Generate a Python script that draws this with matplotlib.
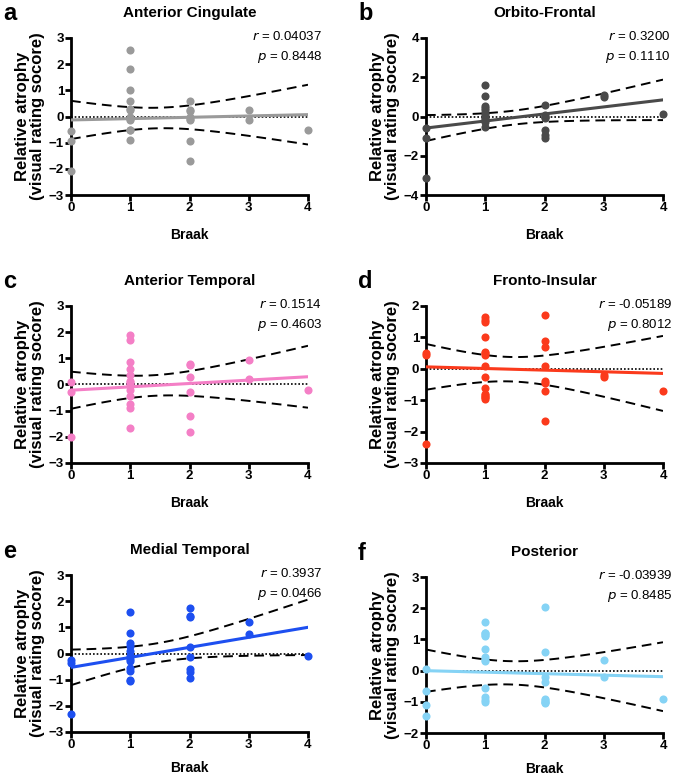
import numpy as np
import matplotlib
matplotlib.use('Agg')
import matplotlib.pyplot as plt

plt.rcParams['font.family'] = ['Liberation Sans', 'DejaVu Sans']

# data: (braak stage, relative atrophy)
cing_x = [0, 0, 0, 1, 1, 1, 1, 1, 1, 1, 1, 1, 1, 1, 1,
          2, 2, 2, 2, 2, 2, 2, 2, 3, 3, 4]
cing_y = [-0.55, -0.95, -2.1, 2.55, 1.8, 1.0, 0.6, 0.25, -0.15, -0.5, -0.9,
          0.0, -0.1, 0.3, -0.5,
          0.6, 0.25, -0.15, -0.95, -1.7, 0.0, -0.1, 0.2, 0.25, -0.15, -0.5]

orb_x = [0, 0, 0, 1, 1, 1, 1, 1, 1, 1, 1, 1, 1, 1, 1,
         2, 2, 2, 2, 2, 2, 2, 2, 3, 3, 4]
orb_y = [-0.6, -1.1, -3.15, 1.6, 1.05, 0.55, 0.35, 0.1, -0.1, -0.3, -0.55,
         0.0, 0.2, -0.2, 0.45,
         0.6, 0.1, -0.1, -0.7, -0.95, -1.1, 0.0, -0.05, 1.1, 1.0, 0.15]

atemp_x = [0, 0, 0, 1, 1, 1, 1, 1, 1, 1, 1, 1, 1, 1, 1, 1, 1,
           2, 2, 2, 2, 2, 2, 3, 3, 4]
atemp_y = [0.1, -0.3, -2.0, 1.9, 1.7, 0.85, 0.6, 0.35, 0.1, -0.05, -0.2, -0.45,
           -0.75, -0.9, -1.65, 0.0, 0.15,
           0.8, 0.75, 0.3, -0.3, -1.2, -1.8, 0.95, 0.2, -0.2]

fins_x = [0, 0, 0, 1, 1, 1, 1, 1, 1, 1, 1, 1, 1, 1, 1, 1, 1, 1,
          2, 2, 2, 2, 2, 2, 2, 2, 3, 3, 4]
fins_y = [0.5, 0.45, -2.4, 1.65, 1.55, 1.5, 1.0, 0.55, 0.5, 0.45, 0.1, -0.25,
          -0.6, -0.8, -0.9, -0.95, -0.85, -0.9,
          1.7, 0.9, 0.7, 0.1, -0.4, -0.45, -0.7, -1.65,
          -0.2, -0.25, -0.7]

mtemp_x = [0, 0, 0, 1, 1, 1, 1, 1, 1, 1, 1, 1, 1, 1, 1,
           2, 2, 2, 2, 2, 2, 2, 2, 3, 3, 4]
mtemp_y = [-0.25, -0.35, -2.3, 1.6, 0.8, 0.4, 0.3, 0.1, -0.1, -0.3, -0.55,
           -0.65, -1.0, -1.05, -0.2,
           1.75, 1.45, 1.4, 0.25, -0.15, -0.6, -0.7, -0.95,
           1.2, 0.75, -0.1]

post_x = [0, 0, 0, 0, 1, 1, 1, 1, 1, 1, 1, 1, 1, 1, 1, 1, 1,
          2, 2, 2, 2, 2, 2, 2, 2, 2, 3, 3, 4]
post_y = [0.05, -0.65, -1.1, -1.45, 1.55, 1.2, 1.1, 0.7, 0.45, 0.35, 0.3,
          -0.55, -0.85, -0.95, -1.0, 1.15, 1.2,
          2.05, 0.6, -0.2, -0.35, -0.9, -1.0, -1.05, -0.95, -1.0,
          0.35, -0.2, -0.9]

titles = ['Anterior Cingulate', 'Orbito-Frontal', 'Anterior Temporal',
          'Fronto-Insular', 'Medial Temporal', 'Posterior']
letters = ['a', 'b', 'c', 'd', 'e', 'f']
r_vals = ['0.04037', '0.3200', '0.1514', '-0.05189', '0.3937', '-0.03939']
p_vals = ['0.8448', '0.1110', '0.4603', '0.8012', '0.0466', '0.8485']
colors = ['#9a9a9a', '#4a4a4a', '#f47fc6', '#fb3a1c', '#1d4ff0', '#85d3f5']
ylims = [(-3, 3), (-4, 4), (-3, 3), (-3, 2), (-3, 3), (-2, 3)]
ysteps = [1, 2, 1, 1, 1, 1]

xs = [cing_x, orb_x, atemp_x, fins_x, mtemp_x, post_x]
ys = [cing_y, orb_y, atemp_y, fins_y, mtemp_y, post_y]

W, H = 685, 779
fig = plt.figure(figsize=(W / 100, H / 100), dpi=100)

# axes boxes in pixels: left, top, right, bottom
boxes = [(71, 38, 308, 195), (426, 38, 663, 195),
         (71, 306, 308, 463), (426, 306, 663, 463),
         (71, 575, 308, 732), (426, 577, 663, 733)]
txt_x = [1.06, 1.03, 1.06, 1.04, 1.06, 1.04]

for i in range(6):
    l, t, r, b = boxes[i]
    ax = fig.add_axes([l / W, 1 - b / H, (r - l) / W, (b - t) / H])
    x = np.array(xs[i], dtype=float)
    y = np.array(ys[i], dtype=float)

    # linear fit with 95% confidence band
    n = len(x)
    slope, icpt = np.polyfit(x, y, 1)
    xx = np.linspace(0, 4, 100)
    yy = slope * xx + icpt
    resid = y - (slope * x + icpt)
    s = np.sqrt(np.sum(resid ** 2) / (n - 2))
    se = s * np.sqrt(1 / n + (xx - x.mean()) ** 2 / np.sum((x - x.mean()) ** 2))
    tq = 2.06

    ax.axhline(0, color='black', lw=1.2, ls=(0, (1, 1.2)), zorder=1)
    ax.scatter(x, y, s=34, color=colors[i], zorder=3, clip_on=False, linewidths=0)
    ax.plot(xx, yy, color=colors[i], lw=2.2, zorder=4)
    ax.plot(xx, yy + tq * se, color='black', lw=1.4, ls=(0, (5, 3)), zorder=2)
    ax.plot(xx, yy - tq * se, color='black', lw=1.4, ls=(0, (5, 3)), zorder=2)

    ax.set_xlim(0, 4)
    ax.set_ylim(*ylims[i])
    ax.set_xticks(range(5))
    ax.set_yticks(np.arange(ylims[i][0], ylims[i][1] + 0.1, ysteps[i]))
    for side in ['top', 'right']:
        ax.spines[side].set_visible(False)
    for side in ['left', 'bottom']:
        ax.spines[side].set_linewidth(2)
    ax.tick_params(width=2, length=4, labelsize=9.5, pad=1)
    for lab in ax.get_xticklabels() + ax.get_yticklabels():
        lab.set_fontweight('bold')

    ax.set_title(titles[i], fontsize=11, fontweight='bold', pad=15)
    ax.set_xlabel('Braak', fontsize=10, fontweight='bold',
                  labelpad=10 if i < 4 else 7)
    ax.set_ylabel('Relative atrophy\n(visual rating socore)', fontsize=12,
                  fontweight='bold', labelpad=3, linespacing=1.0)

    ax.text(txt_x[i], 1.01, '$r$ = ' + r_vals[i], transform=ax.transAxes,
            ha='right', va='center', fontsize=9.5)
    ax.text(txt_x[i], 0.88, '$p$ = ' + p_vals[i], transform=ax.transAxes,
            ha='right', va='center', fontsize=9.5)

    fig.text((l - 68) / W, 1 - (t - 24) / H, letters[i], fontsize=17,
             fontweight='bold', ha='left', va='center')

fig.savefig('out.png', dpi=100)
